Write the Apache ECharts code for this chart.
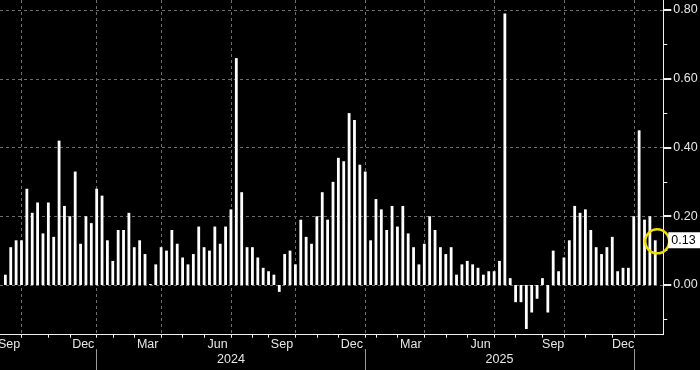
<!DOCTYPE html>
<html>
<head>
<meta charset="utf-8">
<script src="https://cdn.jsdelivr.net/npm/echarts@6/dist/echarts.min.js"></script>
<style>
  html, body { margin: 0; padding: 0; background: #000; }
  #chart { width: 700px; height: 370px; }
</style>
</head>
<body>
<div id="chart"></div>
<script>
// Weekly values, bar index 1..122 (oldest to newest)
const values = [
  0.03, 0.11, 0.13, 0.13, 0.28, 0.21, 0.24, 0.15, 0.24, 0.14,
  0.42, 0.23, 0.20, 0.33, 0.12, 0.20, 0.18, 0.28, 0.26, 0.13,
  0.07, 0.16, 0.16, 0.21, 0.11, 0.13, 0.09, 0.003, 0.06, 0.11,
  0.10, 0.16, 0.12, 0.08, 0.06, 0.09, 0.17, 0.11, 0.10, 0.17,
  0.12, 0.17, 0.22, 0.66, 0.27, 0.11, 0.11, 0.08, 0.05, 0.04,
  0.03, -0.02, 0.09, 0.10, 0.06, 0.19, 0.14, 0.12, 0.20, 0.27,
  0.19, 0.30, 0.37, 0.36, 0.50, 0.48, 0.35, 0.33, 0.13, 0.25,
  0.22, 0.16, 0.23, 0.17, 0.23, 0.15, 0.11, 0.06, 0.12, 0.20,
  0.16, 0.11, 0.09, 0.11, 0.03, 0.06, 0.07, 0.06, 0.05, 0.03,
  0.04, 0.04, 0.07, 0.79, 0.02, -0.05, -0.05, -0.128, -0.08, -0.04,
  0.02, -0.08, 0.10, 0.04, 0.08, 0.13, 0.23, 0.21, 0.22, 0.16,
  0.11, 0.09, 0.11, 0.14, 0.04, 0.05, 0.05, 0.20, 0.45, 0.19,
  0.20, 0.13
];

// x-axis positions (in bar-index units)
const monthTickIdx = [4, 9, 13, 18, 21, 25, 30, 34, 38, 43, 47, 50, 55, 59, 63, 68, 70, 74, 79, 83, 87, 92, 96, 101, 105, 109, 114, 118];
const quarterIdx = [4, 18, 30, 43, 55, 68, 79, 92, 105, 118];
const monthLabels = ['Sep', 'Dec', 'Mar', 'Jun', 'Sep', 'Dec', 'Mar', 'Jun', 'Sep', 'Dec'];
const monthLabelIdx = [1.7, 15.5, 27.5, 40.5, 52.5, 65.5, 76.5, 89.5, 103, 116];
const yearLabels = ['2024', '2025'];
const yearLabelIdx = [43, 93];
const yearTickIdx = [18, 68, 118];

// y-axis ticks
const yMajorTicks = [0, 0.2, 0.4, 0.6, 0.8];
const yMinorTicks = [-0.1, 0.1, 0.3, 0.5, 0.7];
const yMin = -0.1446, yMax = 0.8291;
const xMin = 0, xMax = 123.5;

const lastValue = values[values.length - 1];
const lastIdx = values.length;

function nearestLabel(v, pos, labels) {
  let best = 0, bd = Infinity;
  pos.forEach((p, i) => { const d = Math.abs(p - v); if (d < bd) { bd = d; best = i; } });
  return bd < 0.5 ? labels[best] : '';
}

const FONT = 'Liberation Sans, Arial, sans-serif';
const TXT = '#e6e6e6';
const GRID = '#6e6e6e';

const chart = echarts.init(document.getElementById('chart'), null, { renderer: 'canvas' });
chart.setOption({
  backgroundColor: '#000',
  animation: false,
  grid: { left: 0, right: 36.7, top: 0, bottom: 35.3, containLabel: false, outerBoundsMode: 'none' },
  xAxis: [
    {
      type: 'value', min: xMin, max: xMax, position: 'bottom',
      axisLine: { show: true, onZero: false, lineStyle: { color: '#f0f0f0', width: 1 } },
      axisTick: { show: true, customValues: monthTickIdx, length: 3, lineStyle: { color: '#f0f0f0' } },
      axisLabel: {
        show: true, customValues: monthLabelIdx, margin: 3,
        formatter: v => nearestLabel(v, monthLabelIdx, monthLabels),
        color: TXT, fontFamily: FONT, fontSize: 12.5
      },
      splitLine: { show: false }
    },
    {
      type: 'value', min: xMin, max: xMax, position: 'bottom',
      axisLine: { show: false, onZero: false },
      axisTick: { show: false, customValues: quarterIdx },
      axisLabel: { show: false, customValues: quarterIdx },
      splitLine: { show: true, lineStyle: { color: GRID, type: [3, 3], width: 1 } }
    },
    {
      type: 'value', min: xMin, max: xMax, position: 'bottom', offset: 14.5,
      axisLine: { show: false, onZero: false },
      axisTick: { show: true, customValues: yearTickIdx, length: 21, lineStyle: { color: '#9a9a9a' } },
      axisLabel: {
        show: true, customValues: yearLabelIdx, margin: 4,
        formatter: v => nearestLabel(v, yearLabelIdx, yearLabels),
        color: TXT, fontFamily: FONT, fontSize: 12.5
      },
      splitLine: { show: false }
    }
  ],
  yAxis: [
    {
      type: 'value', min: yMin, max: yMax, position: 'right',
      axisLine: { show: true, onZero: false, lineStyle: { color: '#f0f0f0', width: 1 } },
      axisTick: { show: true, customValues: yMajorTicks, length: 8, lineStyle: { color: '#f0f0f0', width: 2 } },
      axisLabel: {
        show: true, customValues: yMajorTicks, margin: 10,
        formatter: v => v.toFixed(2),
        color: TXT, fontFamily: FONT, fontSize: 12.5
      },
      splitLine: { show: true, lineStyle: { color: GRID, type: [3, 3], width: 1 } }
    },
    {
      type: 'value', min: yMin, max: yMax, position: 'right',
      axisLine: { show: false, onZero: false },
      axisTick: { show: true, customValues: yMinorTicks, length: 4, lineStyle: { color: '#f0f0f0', width: 1 } },
      axisLabel: { show: false, customValues: yMinorTicks },
      splitLine: { show: false }
    }
  ],
  series: [
    {
      type: 'bar',
      xAxisIndex: 0, yAxisIndex: 0,
      barWidth: 2.8,
      itemStyle: { color: '#ffffff' },
      data: values.map((v, i) => [i + 1, v]),
      markPoint: {
        silent: true,
        data: [{
          coord: [lastIdx, lastValue],
          symbol: 'circle', symbolSize: 24, symbolOffset: [2, 1],
          itemStyle: { color: 'rgba(0,0,0,0)', borderColor: '#f0de00', borderWidth: 2.5 },
          label: { show: false }
        }]
      },
      markLine: {
        silent: true, symbol: 'none',
        lineStyle: { color: 'rgba(0,0,0,0)', width: 0 },
        label: {
          show: true, position: 'end', distance: 5,
          formatter: () => lastValue.toFixed(2),
          backgroundColor: '#ffffff', color: '#000', padding: [2, 10, 1, 3],
          fontFamily: FONT, fontSize: 12.5
        },
        data: [{ yAxis: lastValue }]
      }
    }
  ]
});
</script>
</body>
</html>
